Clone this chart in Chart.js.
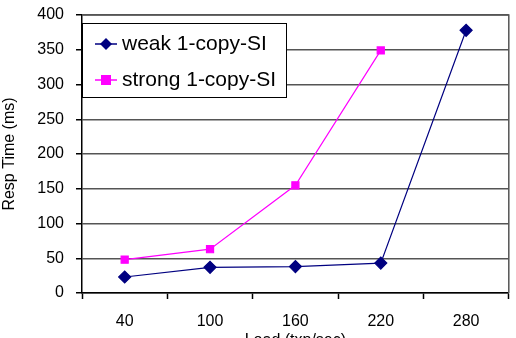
<!DOCTYPE html>
<html>
<head>
<meta charset="utf-8">
<script src="https://cdn.jsdelivr.net/npm/chart.js@4/dist/chart.umd.min.js"></script>
<style>
  html, body { margin: 0; padding: 0; background: #fff; }
  #wrap { width: 516px; height: 338px; }
</style>
</head>
<body>
<div id="wrap"><canvas id="respchart" width="516" height="338"></canvas></div>
<script>
var loads = ["40", "100", "160", "220", "280"];
var weakSI = [23, 37, 38, 43, 378];
var strongSI = [48, 63, 155, 349, null];
var yTicks = [0, 50, 100, 150, 200, 250, 300, 350, 400];

Chart.defaults.font.family = "'Liberation Sans', Arial, sans-serif";
Chart.defaults.color = "#000";

// legend box sitting inside the plot, like the excel one
var boxLegend = {
  id: "boxLegend",
  beforeDatasetsDraw: function(chart) {
    // top and right frame of the plot
    var ctx = chart.ctx;
    var a = chart.chartArea;
    ctx.save();
    ctx.strokeStyle = "#555";
    ctx.lineWidth = 1.5;
    ctx.beginPath();
    ctx.moveTo(a.left, a.top);
    ctx.lineTo(a.right, a.top);
    ctx.lineTo(a.right, a.bottom);
    ctx.stroke();
    ctx.restore();
  },
  afterDatasetsDraw: function(chart) {
    var ctx = chart.ctx;
    var a = chart.chartArea;
    var x = a.left, y = a.top + 8, w = 204, h = 74;
    ctx.save();
    ctx.fillStyle = "#fff";
    ctx.fillRect(x, y, w, h);
    ctx.strokeStyle = "#000";
    ctx.lineWidth = 1;
    ctx.strokeRect(x + 0.5, y + 0.5, w, h);
    ctx.font = "21px 'Liberation Sans', Arial, sans-serif";
    ctx.textBaseline = "middle";
    chart.data.datasets.forEach(function(ds, i) {
      var cy = y + 21 + i * 36;
      ctx.strokeStyle = ds.borderColor;
      ctx.lineWidth = 1.5;
      ctx.beginPath();
      ctx.moveTo(x + 13, cy);
      ctx.lineTo(x + 35, cy);
      ctx.stroke();
      ctx.fillStyle = ds.pointBackgroundColor;
      ctx.beginPath();
      if (ds.pointStyle === "rect") {
        ctx.fillRect(x + 19, cy - 5, 10, 10);
      } else {
        ctx.moveTo(x + 24, cy - 6);
        ctx.lineTo(x + 30, cy);
        ctx.lineTo(x + 24, cy + 6);
        ctx.lineTo(x + 18, cy);
        ctx.closePath();
        ctx.fill();
      }
      ctx.fillStyle = "#000";
      ctx.fillText(ds.label, x + 40, cy);
    });
    ctx.restore();
  }
};

new Chart(document.getElementById("respchart"), {
  type: "line",
  data: {
    labels: loads,
    datasets: [
      {
        label: "weak 1-copy-SI",
        data: weakSI,
        borderColor: "#000080",
        backgroundColor: "#000080",
        pointBackgroundColor: "#000080",
        pointBorderColor: "#000080",
        pointStyle: "rectRot",
        pointRadius: 6,
        borderWidth: 1.2,
        tension: 0
      },
      {
        label: "strong 1-copy-SI",
        data: strongSI,
        borderColor: "#ff00ff",
        backgroundColor: "#ff00ff",
        pointBackgroundColor: "#ff00ff",
        pointBorderColor: "#ff00ff",
        pointStyle: "rect",
        pointRadius: 5,
        borderWidth: 1.2,
        tension: 0
      }
    ]
  },
  options: {
    responsive: false,
    animation: false,
    layout: { padding: { top: 15, right: 6, left: 0, bottom: 0 } },
    plugins: {
      legend: { display: false },
      tooltip: { enabled: false }
    },
    scales: {
      x: {
        offset: true,
        grid: {
          offset: true,
          drawOnChartArea: false,
          tickLength: 6,
          tickColor: "#000",
          tickWidth: 1.5
        },
        border: { color: "#000", width: 1.5 },
        ticks: { padding: 13, font: { size: 16 }, color: "#000", maxRotation: 0 },
        title: {
          display: true,
          text: "Load (txn/sec)",
          font: { size: 16 },
          padding: { top: 0, bottom: -12 }
        },
        afterFit: function(scale) {
          scale.height = 45;
          scale.paddingLeft = 0;
          scale.paddingRight = 0;
        }
      },
      y: {
        min: 0,
        max: 400,
        afterBuildTicks: function(scale) {
          scale.ticks = yTicks.map(function(v) { return { value: v }; });
        },
        grid: {
          color: "#555",
          lineWidth: 1.5,
          tickLength: 6,
          tickColor: "#000"
        },
        border: { color: "#000", width: 1.5 },
        ticks: { padding: 12, font: { size: 16 }, color: "#000" },
        title: {
          display: true,
          text: "Resp Time (ms)",
          font: { size: 16 },
          padding: { top: 0, bottom: 0 }
        },
        afterFit: function(scale) {
          scale.width = 82;
          scale.paddingTop = 0;
          scale.paddingBottom = 0;
        }
      }
    }
  },
  plugins: [boxLegend]
});
</script>
</body>
</html>
